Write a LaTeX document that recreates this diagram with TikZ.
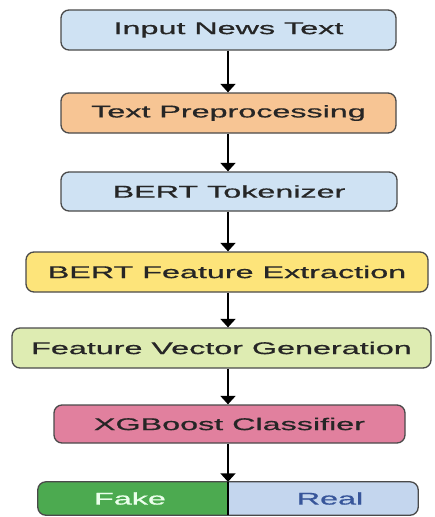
\documentclass[tikz,border=0pt]{standalone}
\usepackage{fontspec}
\setmainfont{Liberation Sans}[FakeBold=0.6]
\usetikzlibrary{arrows.meta}

\definecolor{stepblue}{HTML}{CFE2F3}
\definecolor{steporange}{HTML}{F7C594}
\definecolor{stepyellow}{HTML}{FDE47A}
\definecolor{stepgreen}{HTML}{DEECB2}
\definecolor{steppink}{HTML}{E1809E}
\definecolor{fakegreen}{HTML}{4CAA50}
\definecolor{realblue}{HTML}{C4D6EE}
\definecolor{realtext}{HTML}{37559A}
\definecolor{edgegrey}{HTML}{4A4A4A}
\definecolor{labeltext}{HTML}{262626}

\newcommand{\wide}[1]{\scalebox{1.9}[1]{#1}}

\tikzset{
  stepbox/.style={draw=edgegrey, line width=1.3pt, rounded corners=8pt,
    inner sep=0pt, font=\fontsize{17}{20}\selectfont, text=labeltext},
  flow/.style={line width=1.9pt, -{Triangle[width=15pt,length=8.5pt]}},
  lbl/.style={inner sep=0pt, font=\fontsize{17}{20}\selectfont}
}

\begin{document}
\begin{tikzpicture}[x=1pt, y=-1pt]
  \useasboundingbox (0,0) rectangle (435,517);

  % processing steps
  \node[stepbox, fill=stepblue,   minimum width=335pt, minimum height=40pt] (input) at (228.5,30)  {\wide{Input News Text}};
  \node[stepbox, fill=steporange, minimum width=335pt, minimum height=40pt] (prep)  at (228.5,113) {\wide{Text Preprocessing}};
  \node[stepbox, fill=stepblue,   minimum width=336pt, minimum height=39pt] (tok)   at (229,191.5) {\wide{BERT Tokenizer}};
  \node[stepbox, fill=stepyellow, minimum width=402pt, minimum height=40pt] (feat)  at (227,272)   {\wide{BERT Feature Extraction}};
  \node[stepbox, fill=stepgreen,  minimum width=419pt, minimum height=40pt] (vec)   at (221.5,348) {\wide{Feature Vector Generation}};
  \node[stepbox, fill=steppink,   minimum width=351pt, minimum height=38pt] (cls)   at (229.5,424) {\wide{XGBoost Classifier}};

  % output box split into two classes
  \node[rounded corners=8pt, fill=realblue, inner sep=0pt,
        minimum width=380pt, minimum height=33pt] (out) at (228,498.5) {};
  \coordinate (split) at (228,498.5);
  \begin{scope}
    \clip (out.north west) rectangle (split |- out.south);
    \fill[fakegreen, rounded corners=8pt] (out.north west) rectangle (out.south east);
  \end{scope}
  \draw[edgegrey, line width=1.3pt, rounded corners=8pt] (out.north west) rectangle (out.south east);
  \draw[black, line width=1.5pt] (split |- out.north) -- (split |- out.south);
  \node[lbl, text=white!92!green]  (fake) at (130,498.5) {\wide{Fake}};
  \node[lbl, text=realtext] (real) at (330,498.5) {\wide{Real}};

  % connectors
  \draw[flow] (input.south -| split) -- (prep.north -| split);
  \draw[flow] (prep.south -| split)  -- (tok.north -| split);
  \draw[flow] (tok.south -| split)   -- (feat.north -| split);
  \draw[flow] (feat.south -| split)  -- (vec.north -| split);
  \draw[flow] (vec.south -| split)   -- (cls.north -| split);
  \draw[flow] (cls.south -| split)   -- (out.north -| split);
\end{tikzpicture}
\end{document}
